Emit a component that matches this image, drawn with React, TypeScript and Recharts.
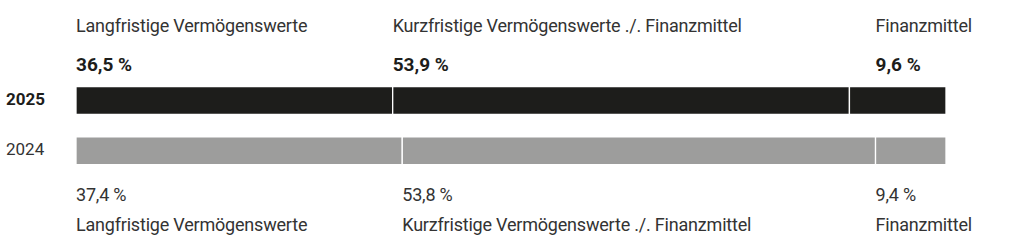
import { BarChart, Bar, XAxis, YAxis, Cell, LabelList } from 'recharts'

const years = ['2025', '2024']
const categories = [
  'Langfristige Vermögenswerte',
  'Kurzfristige Vermögenswerte ./. Finanzmittel',
  'Finanzmittel',
]
// segment shares as they are drawn in the bars (percent of bar length)
const langfristig = [36.4, 37.5]
const kurzfristig = [52.5, 54.4]
const finanzmittel = [11.1, 8.1]
// printed percentages
const labels2025 = ['36,5 %', '53,9 %', '9,6 %']
const labels2024 = ['37,4 %', '53,8 %', '9,4 %']

const rowColors = ['#1d1d1b', '#9d9d9c']
const segKeys = ['lang', 'kurz', 'fin']

const data = years.map((year, i) => ({
  year,
  lang: langfristig[i],
  kurz: kurzfristig[i],
  fin: finanzmittel[i],
}))

const FONT = 'Roboto, "Noto Sans", sans-serif'

const YearTick = (props: any) => {
  const { y, payload } = props
  const bold = payload.value === '2025'
  return (
    <text x={6} y={Number(y) + 4.6} fontFamily={FONT} fontSize={17} fontWeight={bold ? 700 : 400} fill={bold ? '#1d1d1b' : '#333'}>
      {payload.value}
    </text>
  )
}

const makeLabel = (k: number) => (props: any) => {
  const vb = props.viewBox || {}
  const x = Number(props.x ?? vb.x)
  const y = Number(props.y ?? vb.y)
  const width = Number(props.width ?? vb.width)
  const height = Number(props.height ?? vb.height)
  const index = props.index
  if (index === 0) {
    let lx = x
    // the Finanzmittel column labels line up with the narrower 2024 segment
    if (k === 2) lx = x + width - width * (finanzmittel[1] / finanzmittel[0])
    return (
      <g fontFamily={FONT} fontSize={18} letterSpacing={-0.2}>
        <text x={lx} y={y - 54.4} fill="#333">{categories[k]}</text>
        <text x={lx} y={y - 16} fill="#1d1d1b" fontWeight={700} fontSize={19} letterSpacing={0}>{labels2025[k]}</text>
      </g>
    )
  }
  const bottom = y + height
  return (
    <g fontFamily={FONT} fontSize={18} letterSpacing={-0.2}>
      <text x={x} y={bottom + 36.3} fill="#333">{labels2024[k]}</text>
      <text x={x} y={bottom + 66} fill="#333">{categories[k]}</text>
    </g>
  )
}

export default function App() {
  return (
    <div style={{ position: 'absolute', left: 0, top: 0, background: '#fff' }}>
      <BarChart
        width={1024}
        height={245}
        data={data}
        layout="vertical"
        margin={{ top: 75.5, right: 78, bottom: 69, left: 0 }}
      >
        <XAxis type="number" domain={[0, 100]} hide />
        <YAxis
          type="category"
          dataKey="year"
          width={76}
          axisLine={false}
          tickLine={false}
          tick={YearTick}
        />
        {segKeys.map((key, k) => (
          <Bar
            key={key}
            dataKey={key}
            stackId="a"
            barSize={28}
            stroke="#fff"
            strokeWidth={1.3}
            isAnimationActive={false}
          >
            {data.map((_, i) => (
              <Cell key={`c-${i}`} fill={rowColors[i]} />
            ))}
            <LabelList dataKey={key} content={makeLabel(k)} />
          </Bar>
        ))}
      </BarChart>
    </div>
  )
}
